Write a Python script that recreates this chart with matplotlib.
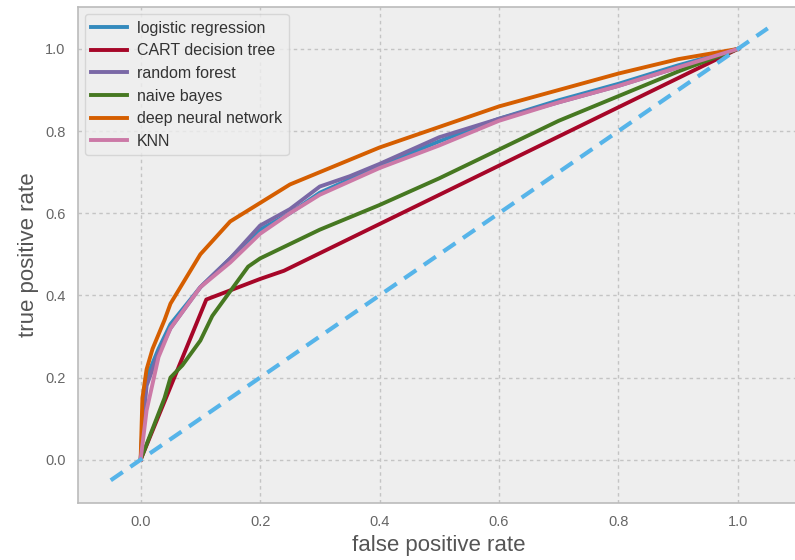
import matplotlib.pyplot as plt
import numpy as np

plt.rcParams['font.family'] = ['Liberation Sans', 'DejaVu Sans']

# ROC curves
lr_fpr = [0, 0.005, 0.01, 0.03, 0.05, 0.1, 0.15, 0.2, 0.25, 0.3, 0.4, 0.5, 0.6, 0.7, 0.8, 0.9, 1.0]
lr_tpr = [0, 0.13, 0.2, 0.27, 0.33, 0.42, 0.49, 0.56, 0.60, 0.65, 0.715, 0.775, 0.83, 0.875, 0.915, 0.96, 1.0]

cart_fpr = [0, 0.11, 0.2, 0.24, 1.0]
cart_tpr = [0, 0.39, 0.44, 0.46, 1.0]

rf_fpr = [0, 0.005, 0.01, 0.03, 0.05, 0.1, 0.15, 0.2, 0.25, 0.3, 0.35, 0.4, 0.5, 0.6, 0.7, 0.8, 0.9, 1.0]
rf_tpr = [0, 0.1, 0.18, 0.26, 0.32, 0.42, 0.49, 0.57, 0.61, 0.665, 0.69, 0.72, 0.785, 0.83, 0.87, 0.91, 0.955, 1.0]

nb_fpr = [0, 0.04, 0.05, 0.07, 0.1, 0.12, 0.15, 0.18, 0.2, 0.3, 0.4, 0.5, 0.6, 0.7, 0.8, 0.9, 1.0]
nb_tpr = [0, 0.15, 0.2, 0.23, 0.29, 0.35, 0.41, 0.47, 0.49, 0.56, 0.62, 0.685, 0.755, 0.825, 0.885, 0.945, 1.0]

dnn_fpr = [0, 0.003, 0.01, 0.02, 0.04, 0.05, 0.1, 0.15, 0.2, 0.25, 0.3, 0.4, 0.5, 0.6, 0.7, 0.8, 0.9, 1.0]
dnn_tpr = [0, 0.15, 0.22, 0.27, 0.34, 0.38, 0.50, 0.58, 0.625, 0.67, 0.70, 0.76, 0.81, 0.86, 0.90, 0.94, 0.975, 1.0]

knn_fpr = [0, 0.01, 0.03, 0.05, 0.1, 0.15, 0.2, 0.25, 0.3, 0.4, 0.5, 0.6, 0.7, 0.8, 0.9, 1.0]
knn_tpr = [0, 0.12, 0.25, 0.32, 0.42, 0.48, 0.55, 0.60, 0.645, 0.71, 0.765, 0.825, 0.87, 0.91, 0.955, 1.0]

names = ["logistic regression", "CART decision tree", "random forest",
         "naive bayes", "deep neural network", "KNN"]
colors = ["#348ABD", "#A60628", "#7A68A6", "#467821", "#D55E00", "#CC79A7"]

fig = plt.figure(figsize=(7.95, 5.6), dpi=100)
ax = fig.add_axes([0.098, 0.102, 0.909, 0.8855])
ax.set_facecolor("#EEEEEE")

curves = [(lr_fpr, lr_tpr), (cart_fpr, cart_tpr), (rf_fpr, rf_tpr),
          (nb_fpr, nb_tpr), (dnn_fpr, dnn_tpr), (knn_fpr, knn_tpr)]
for (f, t), n, c in zip(curves, names, colors):
    ax.plot(f, t, color=c, lw=2.8, label=n)

ax.plot([-0.05, 1.05], [-0.05, 1.05], ls="--", color="#56B4E9", lw=3, dashes=(3.5, 2.2))

ax.set_xlim(-0.105, 1.105)
ax.set_ylim(-0.105, 1.102)
ax.set_xticks(np.arange(0, 1.01, 0.2))
ax.set_yticks(np.arange(0, 1.01, 0.2))
ax.grid(True, ls=(0, (2.5, 2.5)), color="#C4C4C4", lw=1.0)
ax.set_axisbelow(True)
for s in ax.spines.values():
    s.set_color("#BBBBBB")
    s.set_linewidth(1.2)
ax.tick_params(colors="#666666", labelsize=10.5, length=0, pad=9)
ax.set_xlabel("false positive rate", fontsize=16, color="#555555")
ax.set_ylabel("true positive rate", fontsize=16, color="#555555")

leg = ax.legend(loc="upper left", fontsize=11.5, frameon=True, facecolor="#EEEEEE",
                edgecolor="#D0D0D0", handlelength=2.2, handletextpad=0.65,
                labelspacing=0.48, borderaxespad=0.45)
for t in leg.get_texts():
    t.set_color("#333333")

fig.savefig("out.png", dpi=100)
